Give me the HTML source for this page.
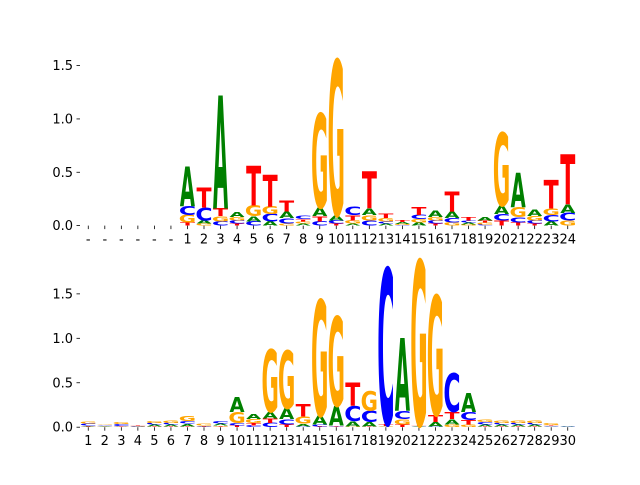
<!DOCTYPE html>
<html><head><meta charset="utf-8"><style>
body{margin:0;background:#fff}
svg text{font-family:"DejaVu Sans","Liberation Sans",sans-serif}
</style></head><body>
<svg id="chart" width="640" height="480" viewBox="0 0 640 480" xmlns="http://www.w3.org/2000/svg">
<g id="top"></g>
<g id="bot"></g>
</svg>
<script>
// Top panel data (positions 0..29; first 6 are gaps "-")
const topLabels = ["-","-","-","-","-","-","1","2","3","4","5","6","7","8","9","10","11","12","13","14","15","16","17","18","19","20","21","22","23","24"];
const topA = [0,0,0,0,0,0,0.37,0.03,1.06,0.05,0.05,0.04,0.06,0.02,0.08,0.05,0.02,0.06,0.02,0.02,0.03,0.06,0.06,0.02,0.03,0.08,0.32,0.06,0.04,0.08];
const topC = [0,0,0,0,0,0,0.085,0.12,0.04,0.03,0.04,0.07,0.05,0.03,0.04,0.03,0.08,0.05,0.02,0.005,0.04,0.03,0.04,0.02,0.01,0.06,0.05,0.03,0.06,0.07];
const topG = [0,0,0,0,0,0,0.07,0.02,0.05,0.03,0.10,0.07,0.02,0.02,0.88,1.45,0.03,0.05,0.03,0.01,0.03,0.03,0.03,0.01,0.02,0.68,0.09,0.04,0.06,0.05];
const topT = [0,0,0,0,0,0,0.03,0.19,0.07,0.02,0.37,0.30,0.10,0.02,0.05,0.02,0.05,0.35,0.04,0.02,0.07,0.02,0.19,0.03,0.02,0.05,0.03,0.02,0.27,0.47];
const topTicks = [0,0.5,1.0,1.5];
// Bottom panel data
const botLabels = ["1","2","3","4","5","6","7","8","9","10","11","12","13","14","15","16","17","18","19","20","21","22","23","24","25","26","27","28","29","30"];
const botA = [0.01,0.01,0.005,0.003,0.02,0.02,0.03,0.005,0.02,0.17,0.06,0.07,0.12,0.03,0.10,0.22,0.06,0.05,0.005,0.82,0.01,0.05,0.06,0.21,0.02,0.02,0.02,0.02,0.005,0.005];
const botC = [0.02,0.01,0.02,0.003,0.02,0.02,0.03,0.005,0.03,0.03,0.02,0.05,0.06,0.01,0.02,0.01,0.17,0.13,1.75,0.09,0.005,0.01,0.43,0.09,0.03,0.02,0.02,0.02,0.01,0.005];
const botG = [0.02,0.01,0.02,0.01,0.02,0.03,0.06,0.02,0.01,0.12,0.04,0.70,0.65,0.08,1.30,1.00,0.01,0.22,0.01,0.06,1.85,1.34,0.03,0.03,0.03,0.03,0.03,0.03,0.02,0.002];
const botT = [0.01,0.005,0.01,0.01,0.01,0.01,0.01,0.01,0.01,0.02,0.03,0.05,0.03,0.14,0.01,0.01,0.26,0.01,0.02,0.03,0.01,0.08,0.08,0.05,0.01,0.01,0.01,0.01,0.01,0.002];
const botTicks = [0,0.5,1.0,1.5];

const NS="http://www.w3.org/2000/svg";
const colors={A:"#008000",C:"#0000ff",G:"#ffa500",T:"#ff0000"};
const ink={A:0.77,C:0.64,G:0.71,T:0.68};
const AX_L=80, AX_R=576, N=30;
function xScale(i){return AX_L+(AX_R-AX_L)/N*(i+0.5);}

function drawPanel(g,top,bottom,ymax,labels,series,ticks,name){
  const yScale=v=>bottom-(bottom-top)*v/ymax;
  // y ticks
  ticks.forEach(t=>{
    const y=yScale(t);
    const l=document.createElementNS(NS,"line");
    l.setAttribute("x1",AX_L-3.5);l.setAttribute("x2",AX_L);l.setAttribute("y1",y);l.setAttribute("y2",y);
    l.setAttribute("stroke","#000");l.setAttribute("stroke-width","0.8");
    
    
    g.appendChild(l);
    const tx=document.createElementNS(NS,"text");
    tx.setAttribute("x",AX_L-7);tx.setAttribute("y",y+4.5);tx.setAttribute("text-anchor","end");
    tx.setAttribute("font-size","13");tx.textContent=t.toFixed(1);
    
    
    g.appendChild(tx);
  });
  // x ticks
  labels.forEach((lab,i)=>{
    const x=xScale(i);
    const l=document.createElementNS(NS,"line");
    l.setAttribute("x1",x);l.setAttribute("x2",x);l.setAttribute("y1",bottom);l.setAttribute("y2",bottom+3.5);
    l.setAttribute("stroke","#000");l.setAttribute("stroke-width","0.8");
    
    
    g.appendChild(l);
    const tx=document.createElementNS(NS,"text");
    tx.setAttribute("x",x);tx.setAttribute("y",bottom+18);tx.setAttribute("text-anchor","middle");
    tx.setAttribute("font-size","13");tx.textContent=lab;
    
    
    g.appendChild(tx);
  });
  // letters
  for(let i=0;i<N;i++){
    const items=Object.keys(series).map(k=>({k:k,v:series[k][i]})).filter(o=>o.v>0).sort((a,b)=>a.v-b.v);
    let base=0;
    items.forEach(o=>{
      const y0=yScale(base), y1=yScale(base+o.v);
      const h=y0-y1;
      base+=o.v;
      const sx=15/(ink[o.k]*100), sy=h/72.9;
      const t=document.createElementNS(NS,"text");
      t.setAttribute("transform","translate("+xScale(i)+","+y0+") scale("+sx+","+sy+")");
      t.setAttribute("text-anchor","middle");t.setAttribute("font-size","100");t.setAttribute("font-weight","bold");
      t.setAttribute("fill",colors[o.k]);
      t.textContent=o.k;
      
      
      g.appendChild(t);
    });
  }
}
drawPanel(document.getElementById("top"),57.6,225.6,1.575,topLabels,{A:topA,C:topC,G:topG,T:topT},topTicks,"top");
drawPanel(document.getElementById("bot"),259.2,427.2,1.89,botLabels,{A:botA,C:botC,G:botG,T:botT},botTicks,"bottom");
</script>
</body></html>
